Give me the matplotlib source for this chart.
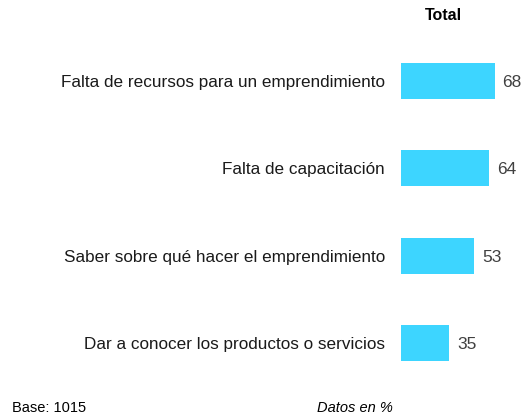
import matplotlib.pyplot as plt

plt.rcParams['font.family'] = ['Liberation Sans', 'DejaVu Sans']

categories = ['Falta de recursos para un emprendimiento',
              'Falta de capacitación',
              'Saber sobre qué hacer el emprendimiento',
              'Dar a conocer los productos o servicios']
values = [68, 64, 53, 35]

fig = plt.figure(figsize=(5.26, 4.19), dpi=100)
ax = fig.add_axes([401 / 526, 0.077, 125 / 526, 0.834])

y = list(range(len(categories)))
ax.barh(y, values, height=0.41, color='#3DD5FF')
ax.set_xlim(0, 90.5)
ax.set_ylim(3.5, -0.5)

for yi, v in zip(y, values):
    ax.text(v + 5.5, yi, str(v), va='center_baseline', ha='left', fontsize=12.5, color='#404040')

ax.set_yticks(y)
ax.set_yticklabels(categories, fontsize=12.3, color='#1a1a1a')
ax.tick_params(axis='y', length=0, pad=11.5)
ax.set_xticks([])
for s in ax.spines.values():
    s.set_visible(False)

fig.text(443 / 526, 1 - 15 / 419, 'Total', ha='center', va='center',
         fontsize=11.5, fontweight='bold')
fig.text(12 / 526, 1 - 408 / 419, 'Base: 1015', ha='left', va='center', fontsize=10.5)
fig.text(355 / 526, 1 - 408 / 419, 'Datos en %', ha='center', va='center',
         fontsize=10.5, style='italic')

fig.savefig('out.png', dpi=100)
